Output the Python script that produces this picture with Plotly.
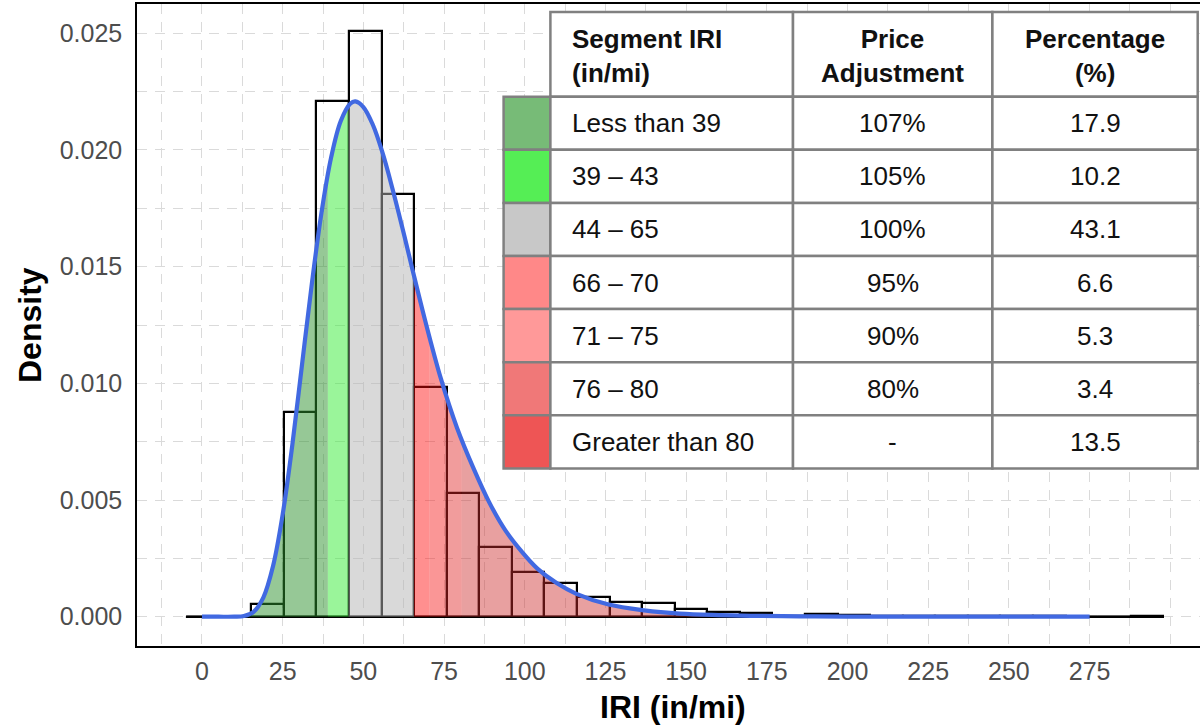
import plotly.graph_objects as go

# ---------------- data ----------------
# Histogram of segment IRI on a density scale: 30 equal-width bins
bin_start = -4.9
bin_width = 10.09
bin_density = [0, 0, 0.00054, 0.00876, 0.0221, 0.0251, 0.0181, 0.00983, 0.00529, 0.0030,
               0.0019, 0.00143, 0.00083, 0.00062, 0.0006, 0.00033, 0.00019, 0.00015, 0.00005, 0.00012,
               0.00008, 0.00003, 0.00002, 0.00002, 0.00001, 0.00001, 0.00001, 0, 0, 0.00001]

# Fitted density curve
curve_x = [0, 5, 10, 13, 16, 19, 22, 25, 28, 31, 34, 37, 40, 43, 46, 47.5, 50, 53, 56, 59,
           62, 65, 69, 74, 79, 84, 89, 94, 99, 104, 110, 116, 126, 137, 148, 160, 170, 185,
           200, 230, 275]
curve_y = [0, 0, 0.000002, 0.00003, 0.00021, 0.00082, 0.00216, 0.00438, 0.00737, 0.01081,
           0.01423, 0.01729, 0.01967, 0.02124, 0.02199, 0.02208, 0.02184, 0.02106, 0.01985,
           0.01835, 0.01671, 0.0150, 0.01277, 0.01021, 0.0081, 0.0064, 0.0049, 0.0037, 0.0028,
           0.00205, 0.00143, 0.00098, 0.00052, 0.00027, 0.00013, 0.000068, 0.00004, 0.000015,
           0.000006, 0.000001, 0]

# Shaded bands under the curve (IRI breaks) and their colours
fill_breaks = [39.0, 45.4, 65.7, 70.5, 75.5, 80.5]
fill_colors = ["rgba(45,145,45,0.5)", "rgba(53,235,53,0.5)", "rgba(180,180,180,0.5)",
               "rgba(255,6,6,0.45)", "rgba(244,22,22,0.45)", "rgba(225,35,35,0.45)",
               "rgba(204,44,44,0.45)"]

# Price adjustment table
header = ["Segment IRI<br>(in/mi)", "Price<br>Adjustment", "Percentage<br>(%)"]
segment_labels = ["Less than 39", "39 – 43", "44 – 65", "66 – 70", "71 – 75", "76 – 80",
                  "Greater than 80"]
price_adjustment = ["107%", "105%", "100%", "95%", "90%", "80%", "-"]
percentage = [17.9, 10.2, 43.1, 6.6, 5.3, 3.4, 13.5]
swatch_colors = ["#77bb77", "#55ee55", "#c8c8c8", "#ff8888", "#ff9999", "#f07878", "#ee5555"]

x_ticks = list(range(0, 276, 25))
y_ticks = [0, 0.005, 0.010, 0.015, 0.020, 0.025]

# ---------------- layout constants ----------------
W, H = 1200, 726
ML, MR, MT, MB = 137, 0, 4, 80
PW, PH = W - ML - MR, H - MT - MB
X_RANGE = [-20.13, 309.2]
Y_RANGE = [-0.001255, 0.026255]
FONT = "Liberation Sans, Arial, sans-serif"
GRID = "#dadada"
TABLE_FONT = 26


def frac_x(v):
    return (v - X_RANGE[0]) / (X_RANGE[1] - X_RANGE[0])


def px_x(p):
    return (p - ML) / PW


def px_y(p):
    return (H - MB - p) / PH


fig = go.Figure()

# histogram outlines
n_bins = len(bin_density)
centers = [bin_start + (i + 0.5) * bin_width for i in range(n_bins)]
fig.add_trace(go.Bar(x=centers, y=bin_density, width=bin_width,
                     marker=dict(color="rgba(0,0,0,0)", line=dict(color="black", width=2.2)),
                     showlegend=False, hoverinfo="skip"))
fig.add_trace(go.Scatter(x=[bin_start, bin_start + n_bins * bin_width], y=[0, 0], mode="lines",
                         line=dict(color="black", width=2.5), showlegend=False, hoverinfo="skip"))

# shaded bands: each band lives on its own clipped x-axis so the fill stops at the break
edges = [X_RANGE[0]] + fill_breaks + [X_RANGE[1]]
axes_layout = {}
for k in range(len(edges) - 1):
    lo, hi = edges[k], edges[k + 1]
    n = k + 2
    axes_layout[f"xaxis{n}"] = dict(domain=[frac_x(lo), frac_x(hi)], range=[lo, hi],
                                    visible=False, anchor=f"y{n}", showgrid=False, zeroline=False)
    axes_layout[f"yaxis{n}"] = dict(domain=[0, 1], range=Y_RANGE, visible=False,
                                    anchor=f"x{n}", showgrid=False, zeroline=False)
    fig.add_trace(go.Scatter(x=curve_x, y=curve_y, xaxis=f"x{n}", yaxis=f"y{n}",
                             mode="lines", line=dict(width=0, shape="spline"),
                             fill="tozeroy", fillcolor=fill_colors[k],
                             showlegend=False, hoverinfo="skip"))

# density curve on top
nc = len(edges) + 1
axes_layout[f"xaxis{nc}"] = dict(domain=[0, 1], range=X_RANGE, visible=False,
                                 anchor=f"y{nc}", showgrid=False, zeroline=False)
axes_layout[f"yaxis{nc}"] = dict(domain=[0, 1], range=Y_RANGE, visible=False,
                                 anchor=f"x{nc}", showgrid=False, zeroline=False)
fig.add_trace(go.Scatter(x=curve_x, y=curve_y, xaxis=f"x{nc}", yaxis=f"y{nc}", mode="lines",
                         line=dict(color="#4169E1", width=4.2, shape="spline", smoothing=1.0),
                         showlegend=False, hoverinfo="skip"))

# ---------------- table ----------------
shapes = []
annotations = []
BORDER = "#808080"
col_x = [503.6, 550.4, 793.0, 992.4, 1197.7]
head_top, head_bot = 12.0, 96.7
row_h = 53.1
text_left = 570

for c in range(1, 4):
    shapes.append(dict(type="rect", xref="paper", yref="paper",
                       x0=px_x(col_x[c]), x1=px_x(col_x[c + 1]),
                       y0=px_y(head_bot), y1=px_y(head_top),
                       fillcolor="white", line=dict(color=BORDER, width=2.5)))

for r in range(len(segment_labels)):
    top = head_bot + r * row_h
    bot = top + row_h
    for c in range(4):
        shapes.append(dict(type="rect", xref="paper", yref="paper",
                           x0=px_x(col_x[c]), x1=px_x(col_x[c + 1]),
                           y0=px_y(bot), y1=px_y(top),
                           fillcolor=swatch_colors[r] if c == 0 else "white",
                           line=dict(color=BORDER, width=2.5)))
    yc = px_y((top + bot) / 2)
    annotations.append(dict(xref="paper", yref="paper", x=px_x(text_left), y=yc, xanchor="left",
                            yanchor="middle", text=segment_labels[r], showarrow=False,
                            font=dict(family=FONT, size=TABLE_FONT, color="#111111")))
    annotations.append(dict(xref="paper", yref="paper", x=px_x((col_x[2] + col_x[3]) / 2), y=yc,
                            xanchor="center", yanchor="middle", text=price_adjustment[r],
                            showarrow=False, font=dict(family=FONT, size=TABLE_FONT, color="#111111")))
    annotations.append(dict(xref="paper", yref="paper", x=px_x((col_x[3] + col_x[4]) / 2), y=yc,
                            xanchor="center", yanchor="middle", text=f"{percentage[r]:.1f}",
                            showarrow=False, font=dict(family=FONT, size=TABLE_FONT, color="#111111")))

head_y = px_y((head_top + head_bot) / 2 + 2)
annotations.append(dict(xref="paper", yref="paper", x=px_x(text_left), y=head_y, xanchor="left",
                        yanchor="middle", align="left", text=f"<b>{header[0]}</b>",
                        showarrow=False, font=dict(family=FONT, size=TABLE_FONT, color="#111111")))
for c, txt in zip([2, 3], header[1:]):
    annotations.append(dict(xref="paper", yref="paper", x=px_x((col_x[c] + col_x[c + 1]) / 2),
                            y=head_y, xanchor="center", yanchor="middle", align="center",
                            text=f"<b>{txt}</b>", showarrow=False,
                            font=dict(family=FONT, size=TABLE_FONT, color="#111111")))

# axis titles
annotations.append(dict(xref="paper", yref="paper", x=px_x(673), y=px_y(707),
                        xanchor="center", yanchor="middle", text="<b>IRI (in/mi)</b>",
                        showarrow=False, font=dict(family=FONT, size=32, color="black")))
annotations.append(dict(xref="paper", yref="paper", x=px_x(30), y=px_y(325),
                        xanchor="center", yanchor="middle", text="<b>Density</b>", textangle=-90,
                        showarrow=False, font=dict(family=FONT, size=32, color="black")))

minor_x = [-12.5 + 25 * i for i in range(13)] + [300]
minor_y = [0.0025 + 0.005 * i for i in range(5)]

fig.update_layout(
    width=W, height=H,
    margin=dict(l=ML, r=MR, t=MT, b=MB, pad=0),
    paper_bgcolor="white", plot_bgcolor="rgba(0,0,0,0)",
    showlegend=False, bargap=0,
    xaxis=dict(range=X_RANGE, domain=[0, 1], tickmode="array", tickvals=x_ticks,
               showgrid=True, gridcolor=GRID, griddash="10px,8px", gridwidth=1.4,
               minor=dict(tickmode="array", tickvals=minor_x, showgrid=True, gridcolor=GRID,
                          griddash="10px,8px", gridwidth=1.4),
               showline=True, mirror=True, linecolor="black", linewidth=1.6,
               zeroline=False, ticks="", ticklabelstandoff=2,
               tickfont=dict(family=FONT, size=25, color="#4d4d4d")),
    yaxis=dict(range=Y_RANGE, domain=[0, 1], tickmode="array", tickvals=y_ticks,
               tickformat=".3f",
               showgrid=True, gridcolor=GRID, griddash="10px,8px", gridwidth=1.4,
               minor=dict(tickmode="array", tickvals=minor_y, showgrid=True, gridcolor=GRID,
                          griddash="10px,8px", gridwidth=1.4),
               showline=True, linecolor="black", linewidth=1.6,
               zeroline=False, ticks="", ticklabelstandoff=8,
               tickfont=dict(family=FONT, size=25, color="#4d4d4d")),
    shapes=shapes,
    annotations=annotations,
    **axes_layout,
)

fig.write_html("out.html")
